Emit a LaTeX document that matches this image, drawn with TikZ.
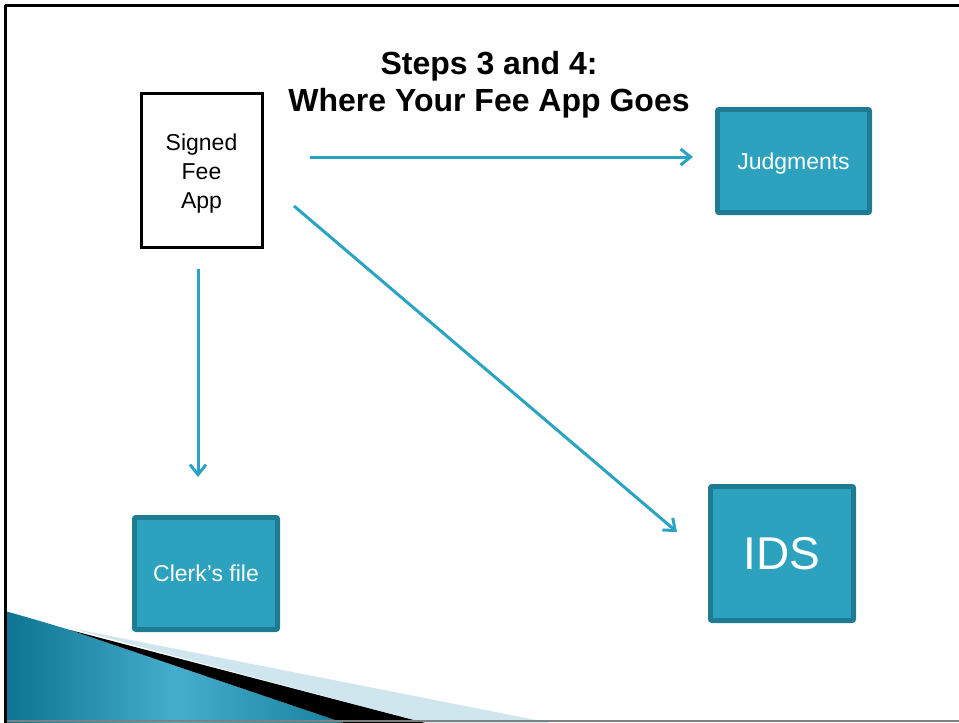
\documentclass[tikz,border=0pt]{standalone}
\usepackage{fontspec}
\setmainfont{Liberation Sans}
\usetikzlibrary{arrows.meta}
\definecolor{boxfill}{HTML}{2CA2BF}
\definecolor{boxedge}{HTML}{1E7B92}
\definecolor{arrowc}{HTML}{2BA3C3}
\definecolor{tealdark}{HTML}{0C7390}
\definecolor{teallight}{HTML}{45AECD}
\definecolor{palewedge}{HTML}{CFE6EF}
\tikzset{
  tealbox/.style={draw=boxedge, fill=boxfill, line width=4pt, rounded corners=2pt,
    text=white, font=\fontsize{23}{28}\selectfont, inner sep=0pt, align=center, text depth=0pt},
  innerline/.style={draw=boxedge, line width=1.2pt},
  flowarrow/.style={draw=arrowc, line width=3pt,
    -{Straight Barb[length=10pt,width=16pt,line width=3pt]}},
}
\begin{document}
\begin{tikzpicture}[x=1pt,y=-1pt]
\useasboundingbox (0,0) rectangle (959,723);
\fill[white] (0,0) rectangle (959,723);
% bottom-left decoration
\shade[left color=tealdark, right color=tealdark!70!boxfill, middle color=teallight]
  (5,611) .. controls (30,618) and (50,624) .. (70,630) -- (344,723) -- (5,723) -- cycle;
\fill[palewedge] (70,628) -- (551,723) -- (425,723) -- cycle;
\fill[black] (70,630) -- (425,723) -- (344,723) -- cycle;
% frame
\draw[gray, line width=2pt] (5,721) -- (959,721);
\draw[black, line width=3pt] (5,5) -- (959,5);
\draw[black, line width=3pt] (5,5) -- (5,723);
% title
\node[font=\bfseries\fontsize{32}{37}\selectfont, align=center] (title) at (489,85)
  {Steps 3 and 4:\\Where Your Fee App Goes};
% signed fee app
\node[draw=black, line width=3pt, minimum width=121pt, minimum height=154pt,
  inner sep=0pt] (sfa) at (201.5,170) {};
\node[align=center, font=\fontsize{23}{29}\selectfont, inner sep=0pt] (sfatxt)
  at ([yshift=-4pt]sfa.center) {Signed\\Fee\\App};
% teal boxes
\node[tealbox, minimum width=153pt, minimum height=104pt] (judg) at (793.5,161) {Judgments};
\node[tealbox, minimum width=144pt, minimum height=113pt] (clerk) at (206,573.5) {Clerk’s file};
\node[tealbox, minimum width=144pt, minimum height=135pt, font=\fontsize{46}{50}\selectfont] (ids) at (782,553.5) {IDS};
\foreach \b in {judg,clerk,ids}{
  \draw[innerline] ([xshift=4.5pt,yshift=-4.5pt]\b.north west) rectangle ([xshift=-4.5pt,yshift=4.5pt]\b.south east);
}
% arrow end points
\coordinate (a1s) at (310,157);
\coordinate (a1e) at (693,157);
\coordinate (a2s) at (294,206);
\coordinate (a2e) at (677,532);
\coordinate (a3s) at (198,269);
\coordinate (a3e) at (198,477);
\draw[flowarrow] (a1s) -- (a1e);
\draw[flowarrow] (a2s) -- (a2e);
\draw[flowarrow] (a3s) -- (a3e);
\end{tikzpicture}
\end{document}
